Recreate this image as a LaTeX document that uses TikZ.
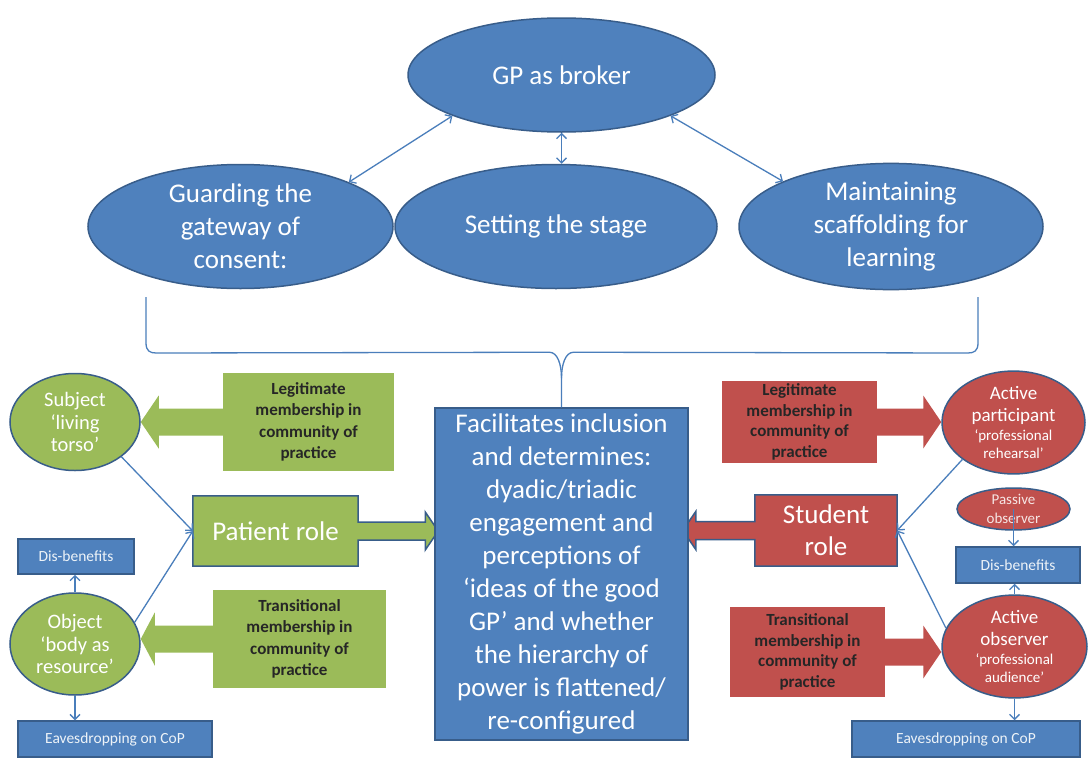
\documentclass[tikz,border=0pt]{standalone}
\usepackage{fontspec}
\setmainfont{Carlito}
\usetikzlibrary{shapes.geometric,arrows.meta,calc,backgrounds}

\definecolor{gpblue}{HTML}{4F81BD}
\definecolor{gpedge}{HTML}{385D8A}
\definecolor{gpgreen}{HTML}{9BBB59}
\definecolor{gpred}{HTML}{C0504D}
\definecolor{gpline}{HTML}{4A7EBB}

\tikzset{
	>={Straight Barb[length=5pt,width=10pt]},
	oval/.style={ellipse, draw=gpedge, line width=1.5pt, fill=gpblue, text=white, align=center, inner sep=0pt, font=\fontsize{27}{33}\selectfont},
	smalloval/.style={ellipse, draw=gpedge, line width=1.5pt, text=white, align=center, inner sep=0pt, font=\fontsize{19}{22.5}\selectfont},
	member/.style={rectangle, align=center, inner sep=0pt, text=black!85, font=\bfseries\fontsize{17}{21.5}\selectfont},
	rolebox/.style={rectangle, align=center, inner sep=0pt, text=white, font=\fontsize{27}{32}\selectfont},
	tag/.style={rectangle, draw=gpedge, line width=1.5pt, fill=gpblue, text=white!90!gpblue, inner sep=0pt, font=\fontsize{15.5}{18}\selectfont},
	link/.style={draw=gpline, line width=1.3pt, ->},
	twoway/.style={link, <->},
	brace/.style={draw=gpline, line width=1.3pt},
}

\begin{document}
\begin{tikzpicture}[x=1pt, y=-1pt]
		\useasboundingbox (0,0) rectangle (1088,758);

		% Broker and its three tasks
		\node[oval, minimum width=307pt, minimum height=114pt] (gp) at (561.5,75) {GP as broker};
		\node[oval, minimum width=305pt, minimum height=124pt] (guard) at (240.5,226.5) {Guarding the\\gateway of\\consent:};
		\node[oval, minimum width=322pt, minimum height=124pt] (stage) at (556,226.5) {Setting the stage};
		\node[oval, minimum width=304pt, minimum height=124pt] (maint) at (891,226.5) {Maintaining\\scaffolding for\\learning};

		\draw[twoway] (gp.south west) -- (guard.north east);
		\draw[twoway] (gp.south) -- (gp.south |- stage.north);
		\draw[twoway] (gp.south east) -- (maint.north west);

		% Central box
		\node[rectangle, draw=gpedge, line width=1.5pt, fill=gpblue, text=white, align=center, inner sep=0pt,
			minimum width=253pt, minimum height=332pt, font=\fontsize{27}{33}\selectfont] (central) at (561.5,574)
			{Facilitates inclusion\\and determines:\\dyadic/triadic\\engagement and\\perceptions of\\‘ideas of the good\\GP’ and whether\\the hierarchy of\\power is flattened/\\re-configured};

		% Brace
		\coordinate (braceL) at (146,297);
		\coordinate (braceR) at (978,297);
		\coordinate (braceM) at ($(central.north)+(0,-55)$);
		\draw[brace] (braceL) -- ++(0,46) .. controls +(0,8) and +(-6,0) .. ++(10,10) -- ($(braceM)+(-12,0)$)
			.. controls +(8,0) and +(0,-14) .. ($(braceM)+(0,26)$) -- (central.north);
		\draw[brace] (braceR) -- ++(0,46) .. controls +(0,8) and +(6,0) .. ++(-10,10) -- ($(braceM)+(12,0)$)
			.. controls +(-8,0) and +(0,-14) .. ($(braceM)+(0,26)$);

		% Patient side
		\node[smalloval, fill=gpgreen, minimum width=130pt, minimum height=97pt, font=\fontsize{20.5}{22.5}\selectfont] (subject) at (75,422) {Subject\\‘living\\torso’};
		\node[smalloval, fill=gpgreen, minimum width=130pt, minimum height=102pt, font=\fontsize{20.5}{22.5}\selectfont] (object) at (75,644) {Object\\‘body as\\resource’};
		\node[member, fill=gpgreen, minimum width=171pt, minimum height=98pt] (legitS) at (308.5,422) {Legitimate\\membership in\\community of\\practice};
		\node[member, fill=gpgreen, minimum width=173pt, minimum height=98pt] (transS) at (299.5,639) {Transitional\\membership in\\community of\\practice};
		\node[rolebox, minimum width=165pt, minimum height=70pt] (patient) at (275.5,531) {Patient role};
		\node[tag, minimum width=116pt, minimum height=35pt] (disS) at (76,556.5) {Dis-benefits};
		\node[tag, minimum width=194pt, minimum height=36pt] (eavesS) at (115,739) {Eavesdropping on CoP};

		% Student side
		\node[smalloval, fill=gpred, minimum width=143pt, minimum height=95pt] (participant) at (1013.5,422.5)
			{Active\\participant\\[-4pt]{\fontsize{15}{18}\selectfont ‘professional}\\[-4pt]{\fontsize{15}{18}\selectfont rehearsal’}};
		\node[smalloval, fill=gpred, minimum width=113pt, minimum height=42pt, text=white!85!gpred, font=\fontsize{15}{19}\selectfont] (passive) at (1013.5,509) {Passive\\observer};
		\node[smalloval, fill=gpred, minimum width=145pt, minimum height=93pt] (observer) at (1014.5,646.5)
			{Active\\observer\\[-4pt]{\fontsize{15}{18}\selectfont ‘professional}\\[-4pt]{\fontsize{15}{18}\selectfont audience’}};
		\node[member, fill=gpred, minimum width=155pt, minimum height=82pt, font=\bfseries\fontsize{17}{20.5}\selectfont] (legitR) at (799.5,422) {Legitimate\\membership in\\community of\\practice};
		\node[member, fill=gpred, minimum width=155pt, minimum height=90pt, font=\bfseries\fontsize{17}{20.5}\selectfont] (transR) at (807.5,652) {Transitional\\membership in\\community of\\practice};
		\node[rolebox, minimum width=142pt, minimum height=71pt] (student) at (826,530.5) {Student\\role};
		\node[tag, minimum width=124pt, minimum height=36pt] (disR) at (1018,565) {Dis-benefits};
		\node[tag, minimum width=228pt, minimum height=36pt] (eavesR) at (966,739) {Eavesdropping on CoP};

		% Block arrows
		\coordinate (subjTip) at (subject.east |- legitS.west);
		\coordinate (objTip) at (object.east |- transS.west);
		\coordinate (partTip) at (participant.west |- legitR.east);
		\coordinate (obsTip) at (observer.west |- transR.east);
		\coordinate (patTip) at ($(central.west |- patient.east)+(4,0)$);
		\coordinate (stuTip) at ($(central.east |- student.west)+(-6,0)$);
		\begin{scope}[on background layer]
			\fill[white] (0,0) rectangle (1088,758);
			\fill[gpgreen] ([shift={(0,-13.5)}]legitS.west) -- ([shift={(18,-13.5)}]subjTip) -- ([shift={(18,-26.5)}]subjTip) -- (subjTip)
				-- ([shift={(18,26.5)}]subjTip) -- ([shift={(18,13.5)}]subjTip) -- ([shift={(0,13.5)}]legitS.west) -- cycle;
			\fill[gpgreen] ([shift={(0,-13.5)}]transS.west) -- ([shift={(14,-13.5)}]objTip) -- ([shift={(14,-26.5)}]objTip) -- (objTip)
				-- ([shift={(14,26.5)}]objTip) -- ([shift={(14,13.5)}]objTip) -- ([shift={(0,13.5)}]transS.west) -- cycle;
			\fill[gpred] ([shift={(0,-13.5)}]legitR.east) -- ([shift={(-18,-13.5)}]partTip) -- ([shift={(-18,-26.5)}]partTip) -- (partTip)
				-- ([shift={(-18,26.5)}]partTip) -- ([shift={(-18,13.5)}]partTip) -- ([shift={(0,13.5)}]legitR.east) -- cycle;
			\fill[gpred] ([shift={(0,-13.5)}]transR.east) -- ([shift={(-18,-13.5)}]obsTip) -- ([shift={(-18,-26.5)}]obsTip) -- (obsTip)
				-- ([shift={(-18,26.5)}]obsTip) -- ([shift={(-18,13.5)}]obsTip) -- ([shift={(0,13.5)}]transR.east) -- cycle;
			\filldraw[fill=gpgreen, draw=gpedge, line width=1.5pt] (patient.north west) -- (patient.north east) -- ([shift={(0,-9)}]patient.east)
				-- ([shift={(-13,-9)}]patTip) -- ([shift={(-13,-19)}]patTip) -- (patTip) -- ([shift={(-13,19)}]patTip) -- ([shift={(-13,9)}]patTip)
				-- ([shift={(0,9)}]patient.east) -- (patient.south east) -- (patient.south west) -- cycle;
			\filldraw[fill=gpred, draw=gpedge, line width=1.5pt] (student.north east) -- (student.north west) -- ([shift={(0,-9)}]student.west)
				-- ([shift={(13,-9)}]stuTip) -- ([shift={(13,-19)}]stuTip) -- (stuTip) -- ([shift={(13,19)}]stuTip) -- ([shift={(13,9)}]stuTip)
				-- ([shift={(0,9)}]student.west) -- (student.south west) -- (student.south east) -- cycle;
		\end{scope}

		% Thin connectors
		\draw[link] (subject.south east) -- (patient.west);
		\draw[link] (object.20) -- (patient.west);
		\draw[link] (object.north) -- (object.north |- disS.south);
		\draw[link] (object.south) -- (object.south |- eavesS.north);
		\draw[link] (participant.south west) -- (student.east);
		\draw[link] (observer.165) -- (student.east);
		\draw[link] (passive.center) -- (passive.center |- disR.north);
		\draw[link] (observer.north) -- (observer.north |- disR.south);
		\draw[link] (observer.south) -- (observer.south |- eavesR.north);
	\end{tikzpicture}
\end{document}
